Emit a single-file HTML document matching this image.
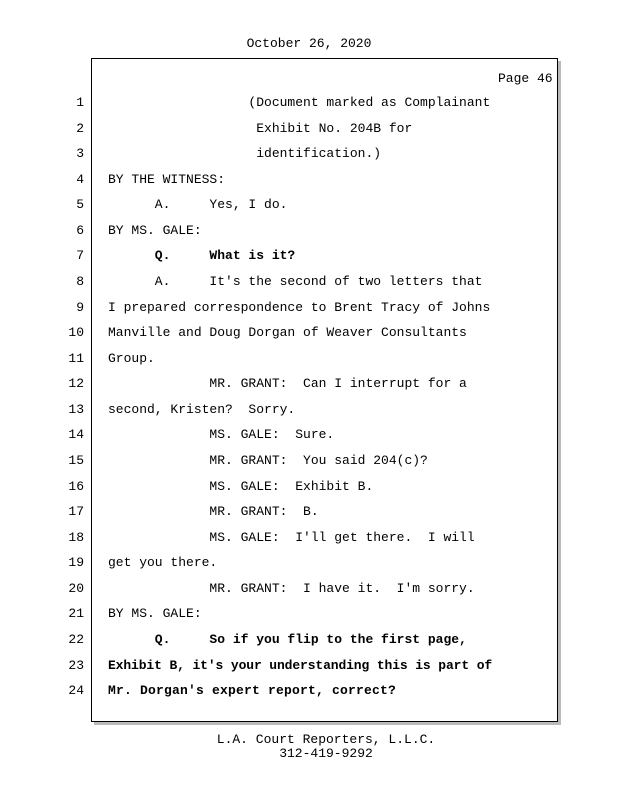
<!DOCTYPE html>
<html><head><style>
body{margin:0;width:618px;height:800px;background:#fff;position:relative;font-family:"Liberation Mono",monospace;font-size:13px;color:#000;overflow:hidden}
.t{position:absolute;white-space:pre;line-height:16px}
.n{position:absolute;left:60px;width:24px;text-align:right;line-height:16px}
.box{position:absolute;left:91px;top:58px;width:465px;height:662px;border:1.5px solid #000;box-shadow:3px 3px 0 #bbb;background:#fff}
b{font-weight:bold}
</style></head><body>
<div class="t" style="left:0;width:618px;text-align:center;top:36px">October 26, 2020</div>
<div class="box"></div>
<div class="t" style="left:498px;top:71px">Page 46</div>
<div id="c"></div>
<div class="t" style="left:0;width:652px;text-align:center;top:733px;line-height:14px">L.A. Court Reporters, L.L.C.
312-419-9292</div>
<script>
var L=[
"                  (Document marked as Complainant",
"                   Exhibit No. 204B for",
"                   identification.)",
"BY THE WITNESS:",
"      A.     Yes, I do.",
"BY MS. GALE:",
"<b>      Q.     What is it?</b>",
"      A.     It's the second of two letters that",
"I prepared correspondence to Brent Tracy of Johns",
"Manville and Doug Dorgan of Weaver Consultants",
"Group.",
"             MR. GRANT:  Can I interrupt for a",
"second, Kristen?  Sorry.",
"             MS. GALE:  Sure.",
"             MR. GRANT:  You said 204(c)?",
"             MS. GALE:  Exhibit B.",
"             MR. GRANT:  B.",
"             MS. GALE:  I'll get there.  I will",
"get you there.",
"             MR. GRANT:  I have it.  I'm sorry.",
"BY MS. GALE:",
"<b>      Q.     So if you flip to the first page,</b>",
"<b style='letter-spacing:-0.12px'>Exhibit B, it's your understanding this is part of</b>",
"<b style='letter-spacing:0.2px'>Mr. Dorgan's expert report, correct?</b>"];
var h="";
for(var i=0;i<24;i++){var y=Math.round(103+i*25.57-8);
h+='<div class="n" style="top:'+y+'px">'+(i+1)+'</div><div class="t" style="left:108px;top:'+y+'px">'+L[i]+'</div>';}
document.getElementById("c").innerHTML=h;
</script>
</body></html>
